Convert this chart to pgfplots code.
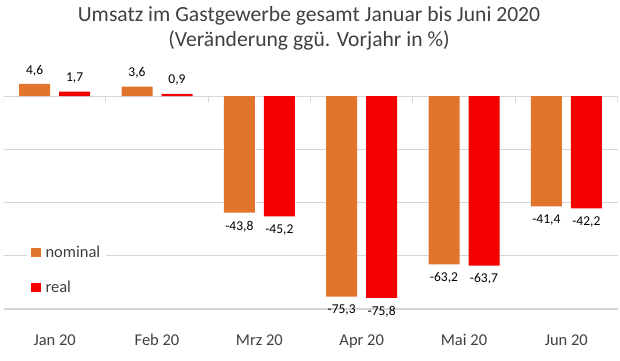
\documentclass[border=0pt]{standalone}
\usepackage{pgfplots}
\pgfplotsset{compat=1.18}
\usepackage{fontspec}
\setmainfont{Carlito}
\definecolor{nomC}{HTML}{E2742C}
\definecolor{realC}{HTML}{F50000}
\definecolor{gridC}{HTML}{D6D6D6}
\definecolor{txtC}{HTML}{404040}
\begin{document}
\begin{tikzpicture}
\path[use as bounding box] (0,0) rectangle (620pt,360pt);
\node[text=txtC, font=\fontsize{21.6pt}{24pt}\selectfont] at (309pt,344pt) {Umsatz im Gastgewerbe gesamt Januar bis Juni 2020};
\node[text=txtC, font=\fontsize{21.6pt}{24pt}\selectfont] at (309pt,320pt) {(Veränderung ggü. Vorjahr in \%)};
\begin{axis}[
  at={(3.5pt,51pt)}, anchor=south west,
  scale only axis, width=614pt, height=266pt,
  xmin=-0.5, xmax=5.5, ymin=-80, ymax=20,
  axis line style={draw=none},
  ytick={-80,-60,-40,-20}, yticklabels={},
  ymajorgrids, grid style={draw=gridC, line width=1.3pt},
  major tick length=0pt,
  xtick={0,1,2,3,4,5},
  xticklabels={Jan 20,Feb 20,Mrz 20,Apr 20,Mai 20,Jun 20},
  xticklabel style={font=\fontsize{16.5pt}{18pt}\selectfont, text=txtC, yshift=-22pt},
  /pgf/number format/assume math mode=true,
  /pgf/number format/use comma,
  /pgf/number format/fixed,
  /pgf/number format/fixed zerofill,
  /pgf/number format/precision=1,
  nodes near coords,
  nodes near coords align=vertical,
  every node near coord/.append style={font=\fontsize{13.5pt}{15pt}\selectfont, text=black, inner ysep=8pt},
  legend style={at={(0.038,0.256)}, anchor=north west, draw=none, fill=white,
    font=\fontsize{16.5pt}{18pt}\selectfont, text=txtC, row sep=18pt, inner xsep=4pt, inner ysep=3pt},
  legend cell align=left,
  legend image code/.code={\fill[#1] (3pt,-4.5pt) rectangle (12.5pt,5pt); \path (15.5pt,0pt);},
]
\draw[gridC, line width=1.3pt] (axis cs:-0.5,0) -- (axis cs:5.5,0);
\pgfplotsinvokeforeach{-0.5,0.5,1.5,2.5,3.5,4.5,5.5}{
  \draw[gridC, line width=1.2pt] (axis cs:#1,0) -- (axis cs:#1,-2.2);
}
\addplot[ybar, bar width=31pt, bar shift=-20pt, fill=nomC, draw=none,
  every node near coord/.append style={xshift=-20pt}] coordinates {
(0,4.6) (1,3.6) (2,-43.8) (3,-75.3) (4,-63.2) (5,-41.4)};
\addlegendentry{nominal}
\addplot[ybar, bar width=31pt, bar shift=20pt, fill=realC, draw=none,
  every node near coord/.append style={xshift=20pt}] coordinates {
(0,1.7) (1,0.9) (2,-45.2) (3,-75.8) (4,-63.7) (5,-42.2)};
\addlegendentry{real}
\end{axis}
\end{tikzpicture}
\end{document}
